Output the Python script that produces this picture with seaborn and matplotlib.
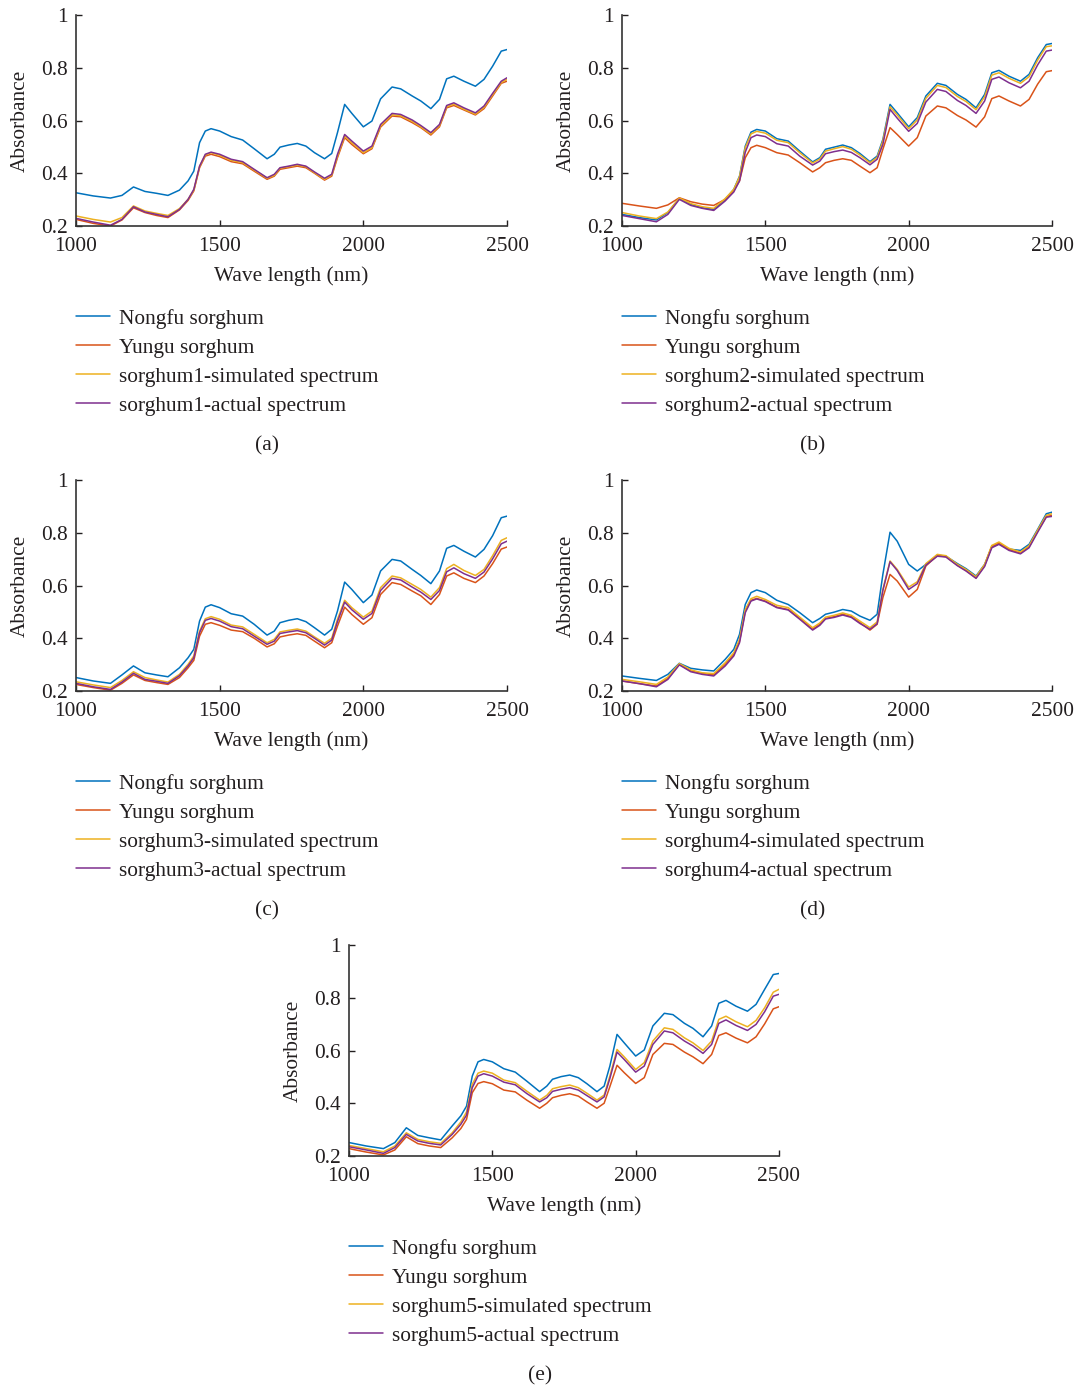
import numpy as np
import pandas as pd
import seaborn as sns
import matplotlib
matplotlib.use("Agg")
import matplotlib.pyplot as plt

# ---------------- data ----------------
WL = [1000, 1060, 1120, 1160, 1200, 1240, 1280, 1320, 1360, 1390,
      1410, 1430, 1450, 1470, 1500, 1540, 1580, 1620, 1665, 1690,
      1710, 1740, 1770, 1800, 1830, 1865, 1890, 1910, 1935, 1960,
      2000, 2030, 2060, 2100, 2130, 2170, 2200, 2235, 2265, 2290,
      2315, 2350, 2390, 2420, 2450, 2480, 2500]

A_NONGFU = [0.326, 0.314, 0.306, 0.316, 0.348, 0.331, 0.324, 0.316, 0.336, 0.371,
            0.408, 0.516, 0.560, 0.569, 0.560, 0.539, 0.526, 0.493, 0.455, 0.472,
            0.499, 0.507, 0.513, 0.503, 0.478, 0.455, 0.475, 0.554, 0.661, 0.627,
            0.576, 0.598, 0.682, 0.727, 0.720, 0.693, 0.674, 0.645, 0.680, 0.758,
            0.768, 0.749, 0.730, 0.756, 0.806, 0.863, 0.869]
A_YUNGU = [0.225, 0.210, 0.200, 0.223, 0.269, 0.251, 0.240, 0.232, 0.261, 0.297,
           0.333, 0.421, 0.465, 0.472, 0.463, 0.444, 0.436, 0.408, 0.377, 0.389,
           0.415, 0.421, 0.427, 0.421, 0.400, 0.374, 0.389, 0.459, 0.535, 0.509,
           0.474, 0.493, 0.575, 0.617, 0.614, 0.592, 0.573, 0.545, 0.576, 0.648,
           0.657, 0.640, 0.621, 0.645, 0.693, 0.741, 0.749]
A_SIM = [0.238, 0.225, 0.215, 0.232, 0.276, 0.257, 0.248, 0.240, 0.266, 0.301,
         0.336, 0.425, 0.469, 0.478, 0.468, 0.449, 0.440, 0.412, 0.381, 0.392,
         0.419, 0.425, 0.431, 0.425, 0.402, 0.377, 0.393, 0.465, 0.541, 0.516,
         0.478, 0.497, 0.579, 0.622, 0.618, 0.597, 0.576, 0.549, 0.581, 0.652,
         0.662, 0.643, 0.624, 0.650, 0.698, 0.744, 0.756]
A_ACT = [0.229, 0.215, 0.203, 0.225, 0.273, 0.253, 0.244, 0.235, 0.263, 0.301,
         0.339, 0.427, 0.472, 0.480, 0.472, 0.453, 0.444, 0.415, 0.383, 0.396,
         0.421, 0.427, 0.434, 0.427, 0.405, 0.381, 0.396, 0.472, 0.547, 0.522,
         0.484, 0.503, 0.585, 0.627, 0.623, 0.602, 0.581, 0.554, 0.585, 0.657,
         0.667, 0.648, 0.629, 0.655, 0.703, 0.749, 0.762]

B_NONGFU = [0.244, 0.232, 0.223, 0.251, 0.305, 0.282, 0.269, 0.263, 0.301, 0.339,
            0.389, 0.503, 0.556, 0.566, 0.560, 0.531, 0.522, 0.484, 0.443, 0.459,
            0.491, 0.499, 0.507, 0.497, 0.475, 0.444, 0.465, 0.528, 0.661, 0.629,
            0.576, 0.611, 0.693, 0.741, 0.733, 0.699, 0.680, 0.648, 0.699, 0.781,
            0.790, 0.768, 0.749, 0.775, 0.838, 0.888, 0.892]
B_YUNGU = [0.286, 0.276, 0.267, 0.280, 0.307, 0.292, 0.283, 0.278, 0.301, 0.335,
           0.371, 0.459, 0.497, 0.506, 0.497, 0.478, 0.469, 0.440, 0.405, 0.421,
           0.440, 0.449, 0.455, 0.449, 0.427, 0.402, 0.421, 0.491, 0.573, 0.547,
           0.503, 0.535, 0.617, 0.655, 0.648, 0.619, 0.602, 0.575, 0.614, 0.683,
           0.693, 0.674, 0.655, 0.680, 0.738, 0.785, 0.789]
B_SIM = [0.251, 0.238, 0.228, 0.253, 0.306, 0.285, 0.273, 0.267, 0.304, 0.339,
         0.387, 0.497, 0.549, 0.559, 0.552, 0.525, 0.516, 0.478, 0.439, 0.454,
         0.484, 0.493, 0.501, 0.491, 0.469, 0.440, 0.460, 0.522, 0.652, 0.621,
         0.569, 0.602, 0.684, 0.733, 0.725, 0.691, 0.672, 0.641, 0.690, 0.772,
         0.781, 0.760, 0.741, 0.766, 0.829, 0.880, 0.883]
B_ACT = [0.240, 0.228, 0.216, 0.244, 0.301, 0.278, 0.267, 0.259, 0.295, 0.329,
         0.371, 0.480, 0.535, 0.545, 0.539, 0.512, 0.503, 0.465, 0.431, 0.446,
         0.474, 0.482, 0.488, 0.479, 0.459, 0.432, 0.453, 0.509, 0.642, 0.609,
         0.559, 0.589, 0.670, 0.718, 0.710, 0.676, 0.657, 0.627, 0.674, 0.756,
         0.765, 0.743, 0.724, 0.749, 0.811, 0.863, 0.867]

C_NONGFU = [0.251, 0.238, 0.229, 0.261, 0.295, 0.269, 0.261, 0.254, 0.288, 0.326,
            0.358, 0.465, 0.518, 0.527, 0.516, 0.493, 0.484, 0.453, 0.412, 0.427,
            0.459, 0.468, 0.474, 0.463, 0.440, 0.412, 0.434, 0.503, 0.613, 0.585,
            0.535, 0.564, 0.655, 0.699, 0.693, 0.661, 0.638, 0.607, 0.655, 0.741,
            0.752, 0.730, 0.708, 0.737, 0.789, 0.857, 0.863]
C_YUNGU = [0.225, 0.213, 0.203, 0.229, 0.261, 0.240, 0.232, 0.225, 0.251, 0.288,
           0.316, 0.408, 0.453, 0.459, 0.449, 0.431, 0.425, 0.400, 0.367, 0.379,
           0.405, 0.412, 0.417, 0.411, 0.389, 0.364, 0.383, 0.446, 0.518, 0.490,
           0.453, 0.478, 0.566, 0.611, 0.604, 0.579, 0.561, 0.528, 0.566, 0.636,
           0.648, 0.627, 0.611, 0.636, 0.683, 0.738, 0.746]
C_SIM = [0.235, 0.223, 0.213, 0.240, 0.273, 0.251, 0.242, 0.234, 0.263, 0.301,
         0.333, 0.427, 0.474, 0.482, 0.472, 0.450, 0.443, 0.415, 0.383, 0.396,
         0.424, 0.430, 0.435, 0.427, 0.405, 0.381, 0.400, 0.472, 0.544, 0.516,
         0.480, 0.503, 0.592, 0.636, 0.629, 0.604, 0.585, 0.556, 0.592, 0.664,
         0.680, 0.657, 0.638, 0.661, 0.713, 0.771, 0.781]
C_ACT = [0.229, 0.216, 0.206, 0.234, 0.267, 0.244, 0.237, 0.229, 0.258, 0.295,
         0.326, 0.421, 0.468, 0.475, 0.465, 0.444, 0.436, 0.408, 0.377, 0.389,
         0.418, 0.424, 0.429, 0.421, 0.400, 0.374, 0.393, 0.463, 0.537, 0.508,
         0.472, 0.494, 0.581, 0.627, 0.621, 0.594, 0.575, 0.547, 0.581, 0.652,
         0.667, 0.645, 0.627, 0.651, 0.701, 0.758, 0.768]

D_NONGFU = [0.257, 0.248, 0.240, 0.263, 0.305, 0.286, 0.280, 0.276, 0.320, 0.358,
            0.415, 0.528, 0.573, 0.583, 0.573, 0.544, 0.528, 0.497, 0.459, 0.475,
            0.491, 0.499, 0.509, 0.503, 0.484, 0.468, 0.491, 0.642, 0.802, 0.768,
            0.680, 0.655, 0.680, 0.715, 0.711, 0.683, 0.664, 0.636, 0.680, 0.747,
            0.758, 0.738, 0.733, 0.756, 0.813, 0.872, 0.878]
D_YUNGU = [0.238, 0.228, 0.219, 0.248, 0.301, 0.276, 0.267, 0.261, 0.301, 0.339,
           0.389, 0.503, 0.544, 0.551, 0.541, 0.518, 0.509, 0.475, 0.434, 0.453,
           0.475, 0.482, 0.491, 0.482, 0.459, 0.431, 0.453, 0.554, 0.642, 0.617,
           0.556, 0.585, 0.674, 0.714, 0.709, 0.677, 0.657, 0.629, 0.676, 0.749,
           0.761, 0.736, 0.723, 0.747, 0.806, 0.861, 0.866]
D_SIM = [0.244, 0.235, 0.225, 0.253, 0.304, 0.280, 0.269, 0.266, 0.307, 0.345,
         0.396, 0.509, 0.550, 0.559, 0.547, 0.525, 0.516, 0.480, 0.440, 0.458,
         0.480, 0.487, 0.496, 0.487, 0.465, 0.440, 0.462, 0.585, 0.693, 0.661,
         0.594, 0.614, 0.683, 0.718, 0.713, 0.680, 0.661, 0.633, 0.680, 0.752,
         0.765, 0.741, 0.727, 0.751, 0.810, 0.866, 0.872]
D_ACT = [0.238, 0.228, 0.216, 0.244, 0.299, 0.273, 0.263, 0.257, 0.295, 0.333,
         0.383, 0.497, 0.541, 0.549, 0.539, 0.516, 0.507, 0.472, 0.431, 0.449,
         0.473, 0.479, 0.488, 0.479, 0.456, 0.434, 0.455, 0.581, 0.690, 0.657,
         0.585, 0.607, 0.677, 0.711, 0.708, 0.675, 0.655, 0.627, 0.672, 0.743,
         0.756, 0.733, 0.720, 0.743, 0.802, 0.859, 0.862]

E_NONGFU = [0.251, 0.238, 0.228, 0.251, 0.307, 0.278, 0.269, 0.261, 0.314, 0.352,
            0.389, 0.503, 0.557, 0.566, 0.557, 0.531, 0.518, 0.484, 0.444, 0.465,
            0.491, 0.501, 0.507, 0.497, 0.474, 0.444, 0.465, 0.541, 0.661, 0.629,
            0.579, 0.602, 0.693, 0.741, 0.736, 0.703, 0.684, 0.652, 0.693, 0.779,
            0.790, 0.768, 0.749, 0.775, 0.832, 0.888, 0.892]
E_YUNGU = [0.228, 0.215, 0.204, 0.223, 0.273, 0.247, 0.238, 0.232, 0.269, 0.304,
           0.339, 0.440, 0.475, 0.482, 0.474, 0.450, 0.443, 0.412, 0.381, 0.400,
           0.421, 0.430, 0.436, 0.427, 0.405, 0.381, 0.400, 0.463, 0.544, 0.516,
           0.475, 0.497, 0.585, 0.627, 0.623, 0.594, 0.576, 0.550, 0.585, 0.657,
           0.667, 0.647, 0.629, 0.652, 0.701, 0.758, 0.766]
E_SIM = [0.240, 0.228, 0.216, 0.238, 0.288, 0.263, 0.254, 0.248, 0.288, 0.329,
         0.367, 0.472, 0.514, 0.522, 0.514, 0.488, 0.478, 0.446, 0.412, 0.430,
         0.455, 0.463, 0.469, 0.459, 0.438, 0.412, 0.431, 0.503, 0.604, 0.576,
         0.528, 0.554, 0.636, 0.686, 0.680, 0.648, 0.629, 0.600, 0.636, 0.718,
         0.730, 0.709, 0.690, 0.714, 0.762, 0.821, 0.832]
E_ACT = [0.235, 0.223, 0.210, 0.232, 0.282, 0.257, 0.248, 0.242, 0.282, 0.320,
         0.355, 0.459, 0.503, 0.512, 0.503, 0.480, 0.470, 0.437, 0.405, 0.421,
         0.445, 0.453, 0.459, 0.450, 0.429, 0.405, 0.424, 0.494, 0.594, 0.566,
         0.518, 0.541, 0.623, 0.674, 0.667, 0.636, 0.617, 0.589, 0.623, 0.703,
         0.716, 0.695, 0.676, 0.699, 0.747, 0.806, 0.813]

PANEL_LETTERS = ["a", "b", "c", "d", "e"]
PANEL_DATA = [
    (A_NONGFU, A_YUNGU, A_SIM, A_ACT),
    (B_NONGFU, B_YUNGU, B_SIM, B_ACT),
    (C_NONGFU, C_YUNGU, C_SIM, C_ACT),
    (D_NONGFU, D_YUNGU, D_SIM, D_ACT),
    (E_NONGFU, E_YUNGU, E_SIM, E_ACT),
]
X_TICKS = [1000, 1500, 2000, 2500]
Y_TICKS = [0.2, 0.4, 0.6, 0.8, 1.0]
Y_TICK_LABELS = ["0.2", "0.4", "0.6", "0.8", "1"]
COLORS = ["#0072BD", "#D95319", "#EDB120", "#7E2F8E"]

# ---------------- style ----------------
sns.set_theme(style="ticks")
plt.rcParams["font.family"] = ["Liberation Serif", "DejaVu Serif"]
TXT = "#231F20"
plt.rcParams["text.color"] = TXT
plt.rcParams["axes.labelcolor"] = TXT
plt.rcParams["xtick.color"] = TXT
plt.rcParams["ytick.color"] = TXT

W, H = 1079, 1386
fig = plt.figure(figsize=(W / 100, H / 100), dpi=100)
fig.patch.set_facecolor("white")

# panel layout in pixels: left, top, right, bottom of the axes box
BOXES = [(76, 15, 507, 226), (622, 15, 1052, 226),
         (76, 480, 507, 691), (622, 480, 1052, 691),
         (349, 945, 779, 1156)]

FS = 15.4
for i, (letter, series) in enumerate(zip(PANEL_LETTERS, PANEL_DATA)):
    l, t, r, b = BOXES[i]
    ax = fig.add_axes([l / W, 1 - b / H, (r - l) / W, (b - t) / H])
    n = i + 1
    names = ["Nongfu sorghum", "Yungu sorghum",
             f"sorghum{n}-simulated spectrum", f"sorghum{n}-actual spectrum"]
    frames = []
    for name, vals in zip(names, series):
        frames.append(pd.DataFrame({"wl": WL, "abs": vals, "series": name}))
    df = pd.concat(frames, ignore_index=True)
    sns.lineplot(data=df, x="wl", y="abs", hue="series", hue_order=names,
                 palette=COLORS, linewidth=1.1, legend=False, ax=ax,
                 errorbar=None)
    for ln in ax.get_lines():
        ln.set_solid_joinstyle("round")
    ax.set_xlim(1000, 2500)
    ax.set_ylim(0.2, 1.0)
    ax.set_xticks(X_TICKS)
    ax.set_xticklabels([str(v) for v in X_TICKS], fontsize=FS)
    ax.set_yticks(Y_TICKS)
    ax.set_yticklabels(Y_TICK_LABELS, fontsize=FS)
    ax.tick_params(axis="x", direction="in", length=4, width=1.0, pad=8)
    ax.tick_params(axis="y", direction="in", length=4, width=1.0, pad=6)
    ax.set_xlabel("Wave length (nm)", fontsize=FS, labelpad=7)
    ax.set_ylabel("Absorbance", fontsize=FS, labelpad=8)
    ax.set_facecolor("white")
    sns.despine(ax=ax)
    for s in ["left", "bottom"]:
        ax.spines[s].set_linewidth(1.2)
        ax.spines[s].set_color("#333333")
    ax.grid(False)

    leg = ax.legend(handles=ax.get_lines(), labels=names,
                    loc="upper left",
                    bbox_to_anchor=(l / W, 1 - (t + 294) / H),
                    bbox_transform=fig.transFigure, frameon=False,
                    fontsize=FS, handlelength=1.6, handletextpad=0.4,
                    labelspacing=0.42, borderpad=0, borderaxespad=0)
    for line in leg.get_lines():
        line.set_linewidth(1.1)

    fig.text(((l + r) / 2 - 24) / W, 1 - (t + 431) / H, f"({letter})",
             ha="center", va="center", fontsize=FS)

fig.savefig("out.png", dpi=100, facecolor="white")
